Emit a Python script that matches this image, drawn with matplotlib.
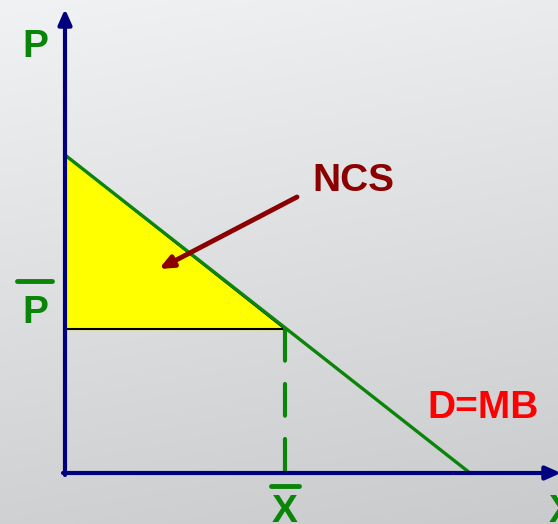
# Consumer surplus diagram: demand D=MB, price P-bar, quantity X-bar, NCS triangle

import numpy as np
import matplotlib
matplotlib.use('Agg')
import matplotlib.pyplot as plt

p_max = 7.95      # demand intercept on P axis
q_max = 10.125    # demand intercept on X axis
p_bar = 3.6
x_bar = 5.5

demand_q = [0, q_max]
demand_p = [p_max, 0]
ncs_q = [0, 0, x_bar]
ncs_p = [p_max, p_bar, p_bar]

green = '#0a850a'
navy = '#00007f'
darkred = '#8b0000'

fig = plt.figure(figsize=(5.58, 5.24), dpi=100)
ax = fig.add_axes([0, 0, 1, 1])
ax.set_xlim(-1.625, 12.325)
ax.set_ylim(-1.275, 11.825)
ax.axis('off')

# background gradient, light top to grey bottom
gy, gx = np.mgrid[0:1:200j, 0:1:200j]
shade = 0.945 - 0.13 * gy - 0.025 * gx
bg = np.dstack([shade, shade + 0.004, shade + 0.012])
bg = np.clip(bg, 0, 1)
ax.imshow(bg, extent=[-1.625, 12.325, -1.275, 11.825], origin='upper',
          aspect='auto', zorder=0)

# NCS triangle
ax.fill(ncs_q, ncs_p, color='yellow', zorder=1)
ax.plot(ncs_q + [ncs_q[0]], ncs_p + [ncs_p[0]], color='black', lw=1.5, zorder=2)

# demand curve
ax.plot(demand_q, demand_p, color=green, lw=2.4, zorder=3)

# dashed drop line at X-bar
ax.plot([x_bar, x_bar], [p_bar, 0], color=green, lw=3, zorder=3,
        dashes=(7.6, 5.6), dash_capstyle='round')

# axes with arrows
arrow = dict(arrowstyle='-|>,head_length=0.9,head_width=0.4',
             color=navy, lw=3, shrinkA=0, shrinkB=0)
ax.annotate('', xy=(0, 11.6), xytext=(0, -0.05), arrowprops=arrow,
            annotation_clip=False, zorder=4)
ax.annotate('', xy=(12.4, 0), xytext=(-0.05, 0), arrowprops=arrow,
            annotation_clip=False, zorder=4)

# bars over the X-bar and P-bar labels
ax.plot([x_bar - 0.35, x_bar + 0.35], [-0.33, -0.33], color=green, lw=3.5,
        solid_capstyle='round')
ax.plot([-1.2, -0.33], [4.8, 4.8], color=green, lw=3.5, solid_capstyle='round')

font = dict(fontfamily='Liberation Sans', fontweight='bold', fontsize=28)
ax.text(-0.75, 10.65, 'P', color=green, ha='center', va='center', **font)
ax.text(-0.75, 4.0, 'P', color=green, ha='center', va='center', **font)
ax.text(x_bar, -0.97, 'X', color=green, ha='center', va='center', **font)
ax.text(12.1, -0.97, 'X', color=green, ha='left', va='center', **font)
ax.text(7.2, 7.3, 'NCS', color=darkred, ha='center', va='center', **font)
ax.text(10.45, 1.63, 'D=MB', color='#ff0000', ha='center', va='center', **font)

# arrow from NCS label into the triangle
ax.annotate('', xy=(2.35, 5.1), xytext=(5.8, 6.9),
            arrowprops=dict(arrowstyle='-|>,head_length=0.8,head_width=0.35',
                            color=darkred, lw=3.5, shrinkA=0, shrinkB=0,
                            capstyle='round'), zorder=5)

plt.savefig('out.png', dpi=100)
